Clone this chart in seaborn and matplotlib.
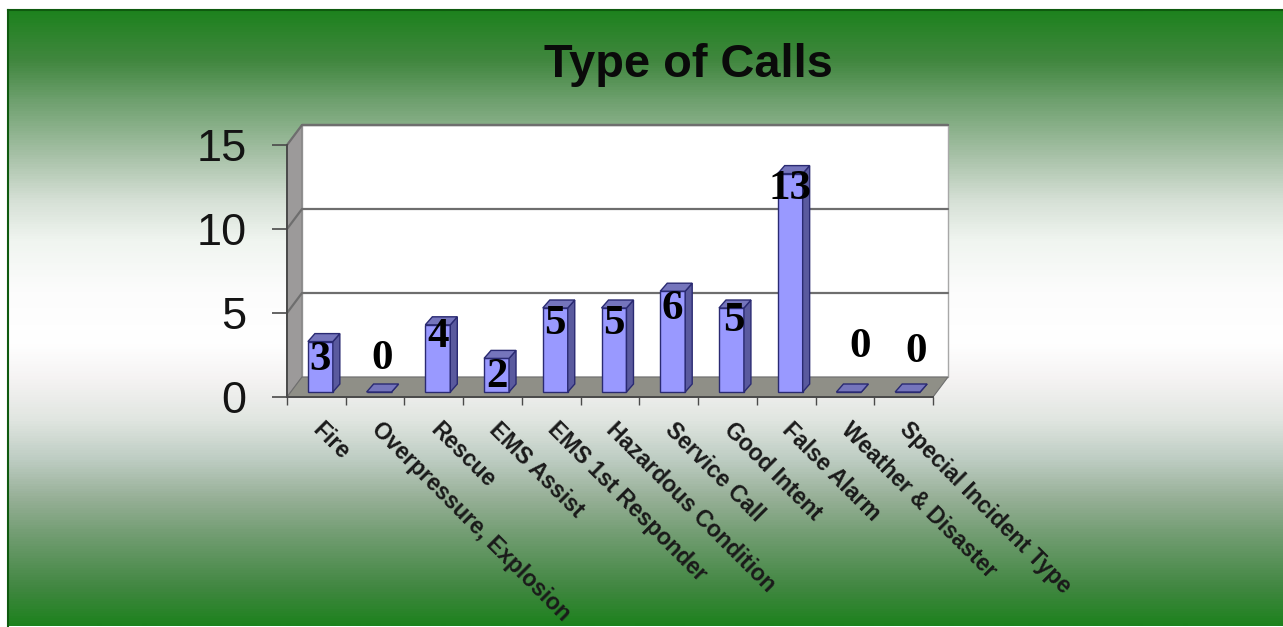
import numpy as np
import pandas as pd
import matplotlib
matplotlib.use("Agg")
import matplotlib.pyplot as plt
import seaborn as sns
from matplotlib.colors import LinearSegmentedColormap
from matplotlib.patches import Polygon
from matplotlib.transforms import Affine2D, IdentityTransform

# ---- data ----
categories = ["Fire", "Overpressure, Explosion", "Rescue", "EMS Assist",
              "EMS 1st Responder", "Hazardous Condition", "Service Call",
              "Good Intent", "False Alarm", "Weather & Disaster",
              "Special Incident Type"]
call_counts = [3, 0, 4, 2, 5, 5, 6, 5, 13, 0, 0]
y_ticks = [0, 5, 10, 15]
title_text = "Type of Calls"

# ---- style ----
label_nudge = [(4, -13), (7, 38), (4, -7), (4, -14), (4, -11), (4, -11),
               (4, -13), (6, -8), (4, -10), (15, 50), (12, 45)]
WALL_DX, WALL_DY = 15, 20      # depth of the chart box, px
BAR_DX, BAR_DY = 4, 5          # front face of the bars inside the box, px
TOP_DX, TOP_DY = 7, 8          # depth of one bar, px
FRONT, SIDE, TOP, EDGE = "#9999FF", "#5A5A9E", "#7575BC", "#2A2A72"

W, H = 1283, 627
sns.set_theme(style="white")
plt.rcParams["font.family"] = ["Liberation Sans", "DejaVu Sans"]
fig = plt.figure(figsize=(W / 100, H / 100), dpi=100, facecolor="white")

# gradient background
bg = fig.add_axes([8 / W, 1 / H, (W - 8) / W, (H - 11) / H], zorder=0)
cmap = LinearSegmentedColormap.from_list(
    "bg", [(0.00, "#1E821E"), (0.08, "#41873F"), (0.145, "#6EA06E"), (0.24, "#AAC3AA"),
           (0.31, "#D7E1D7"), (0.375, "#F0F5F0"), (0.455, "#FCFCFC"), (0.54, "#FFFFFF"),
           (0.60, "#F5F3F3"), (0.665, "#E1E6E1"), (0.73, "#BECDC3"), (0.795, "#96AF96"),
           (0.86, "#6E9B6E"), (0.94, "#418741"), (1.00, "#1E821E")])
bg.imshow(np.linspace(0, 1, 616)[:, None], aspect="auto", cmap=cmap, vmin=0, vmax=1)
bg.set_xticks([])
bg.set_yticks([])
for name, sp in bg.spines.items():
    sp.set_visible(name in ("top", "left"))
    sp.set_color("#0F5A0F")
    sp.set_linewidth(1.5)

# chart: the axes rectangle is the front plane of the box
ax = fig.add_axes([287 / W, (H - 397) / H, 646 / W, 252 / H], zorder=1)
ax.patch.set_alpha(0)
df = pd.DataFrame({"category": categories, "calls": call_counts})
sns.barplot(data=df, x="category", y="calls", ax=ax, color=FRONT, saturation=1,
            width=0.425, edgecolor=EDGE, linewidth=1.0, zorder=3)
ax.set_xlim(-0.5, len(categories) - 0.5)
ax.set_ylim(0, 15)
ax.set_xlabel("")
ax.set_ylabel("")


def px(x, y, dx=0, dy=0):
    return ax.transData.transform((x, y)) + np.array([dx, dy])


def poly(points, fc, ec, lw=1.0, z=1):
    ax.add_patch(Polygon(points, closed=True, facecolor=fc, edgecolor=ec, linewidth=lw,
                         transform=IdentityTransform(), clip_on=False, zorder=z))


x0, x1 = ax.get_xlim()
ymax = ax.get_ylim()[1]
# back wall, left wall, floor
poly([px(x0, 0, WALL_DX, WALL_DY), px(x1, 0, WALL_DX, WALL_DY),
      px(x1, ymax, WALL_DX, WALL_DY), px(x0, ymax, WALL_DX, WALL_DY)], "white", "#A8A8A8", 1.0, 0.5)
poly([px(x0, 0), px(x0, 0, WALL_DX, WALL_DY), px(x0, ymax, WALL_DX, WALL_DY), px(x0, ymax)],
     "#9C9A9A", "#7E7E7E", 0.8, 0.6)
poly([px(x0, 0), px(x1, 0), px(x1, 0, WALL_DX, WALL_DY), px(x0, 0, WALL_DX, WALL_DY)],
     "#8F8F87", "#6E6E6E", 0.8, 0.7)
# gridlines on walls
for v in y_ticks[1:]:
    a, b, c = px(x0, v), px(x0, v, WALL_DX, WALL_DY), px(x1, v, WALL_DX, WALL_DY)
    ax.add_line(plt.Line2D([a[0], b[0], c[0]], [a[1], b[1], c[1]], color="#6E6E6E", lw=1.6,
                           transform=IdentityTransform(), clip_on=False, zorder=0.8))
top_l, top_r = px(x0, ymax, WALL_DX, WALL_DY), px(x1, ymax, WALL_DX, WALL_DY)
ax.add_line(plt.Line2D([top_l[0], top_r[0]], [top_l[1], top_r[1]], color="#6E6E6E", lw=1.6,
                       transform=IdentityTransform(), clip_on=False, zorder=0.8))

# 3D bars: shift the seaborn faces inside the box, add side and top faces
shift = ax.transData + Affine2D().translate(BAR_DX, BAR_DY)
for bar, v in zip(ax.patches[:len(categories)], call_counts):
    left, right = bar.get_x(), bar.get_x() + bar.get_width()
    bar.set_transform(shift)
    bar.set_clip_on(False)
    o = (BAR_DX, BAR_DY)
    t = (BAR_DX + TOP_DX, BAR_DY + TOP_DY)
    poly([px(right, 0, *o), px(right, 0, *t), px(right, v, *t), px(right, v, *o)], SIDE, EDGE, 1.0, 3.1)
    poly([px(left, v, *o), px(right, v, *o), px(right, v, *t), px(left, v, *t)], TOP, EDGE, 1.0, 3.2)

# value labels
for i, (v, (dx, dy)) in enumerate(zip(call_counts, label_nudge)):
    ax.annotate(str(v), (i, v), xytext=(dx * 0.72, dy * 0.72), textcoords="offset points",
                ha="center", va="center", fontsize=31, fontweight="bold",
                family="Liberation Serif", color="black", zorder=6, annotation_clip=False)

# axes furniture
ax.set_yticks(y_ticks)
ax.tick_params(axis="y", length=11, width=1.2, color="#4A4A4A", pad=18, labelsize=32.5,
               labelcolor="#141414", left=True)
ax.set_xticks(range(len(categories)))
ax.set_xticks(np.arange(-0.5, len(categories)), minor=True)
ax.set_xticklabels(categories, rotation=-45, ha="left", va="top", rotation_mode="anchor",
                   fontsize=16.5, fontweight="bold", color="#1A1A1A")
ax.tick_params(axis="x", which="major", length=0, pad=15, bottom=False)
ax.tick_params(axis="x", which="minor", length=5.5, width=1.0, color="#4A4A4A", bottom=True)
for lab in ax.get_xticklabels():
    lab.set_transform(lab.get_transform() + Affine2D().translate(8, 0))
for name, sp in ax.spines.items():
    sp.set_visible(name in ("left", "bottom"))
    sp.set_color("#4A4A4A")
    sp.set_linewidth(1.4)
    sp.set_zorder(2)

fig.text(688 / W, (H - 65) / H, title_text, ha="center", va="center", fontsize=33.8,
         fontweight="bold", color="#0A0A0A", zorder=5)

fig.savefig("out.png", dpi=100)
